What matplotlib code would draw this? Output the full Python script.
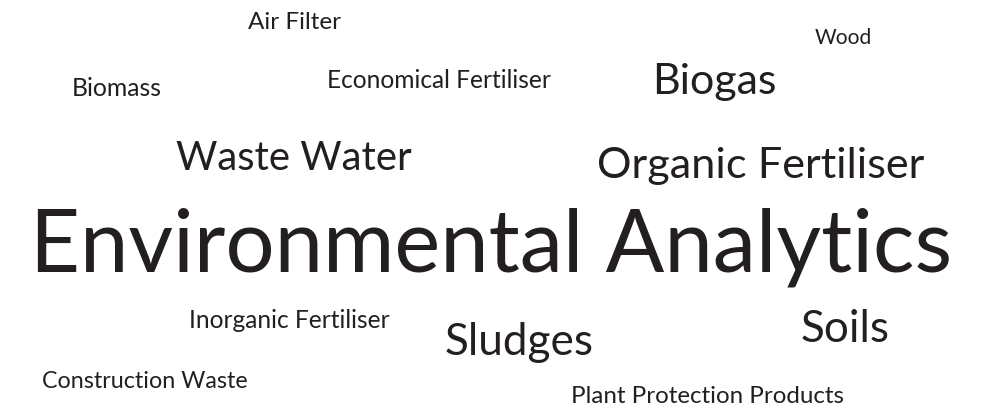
import matplotlib.pyplot as plt

words = ["Environmental Analytics", "Waste Water", "Organic Fertiliser", "Biogas",
         "Sludges", "Soils", "Air Filter", "Wood", "Economical Fertiliser",
         "Biomass", "Inorganic Fertiliser", "Construction Waste",
         "Plant Protection Products"]
weights = [4, 2, 2, 2, 2, 2, 1, 1, 1, 1, 1, 1, 1]

# left edge, right edge and baseline of each word, in pixels from top-left
pos_x = [30, 176, 597, 652, 445, 801, 248, 815, 327, 72, 189, 42, 571]
end_x = [953, 411, 924, 777, 594, 890, 341, 872, 551, 162, 390, 247, 843]
pos_y = [272, 170, 178, 94, 355, 342, 29, 44, 88, 96, 328, 388, 403]

sizes = {4: 66, 2: 33.5, 1: 17.5}
colour = "#231f20"
font = "Lato"

fig = plt.figure(figsize=(9.96, 4.10), dpi=100)
ax = fig.add_axes([0, 0, 1, 1])
ax.set_xlim(0, 996)
ax.set_ylim(410, 0)
ax.axis("off")

labels = []
for w, k, x, y in zip(words, weights, pos_x, pos_y):
    t = ax.text(x, y, w, fontsize=sizes[k], color=colour, family=font,
                ha="left", va="baseline")
    labels.append(t)

# shrink or grow each word so its width matches the layout
fig.canvas.draw()
r = fig.canvas.get_renderer()
for t, x0, x1 in zip(labels, pos_x, end_x):
    wpx = t.get_window_extent(r).width
    t.set_fontsize(t.get_fontsize() * (x1 - x0) / wpx)

fig.savefig("out.png", dpi=100)
